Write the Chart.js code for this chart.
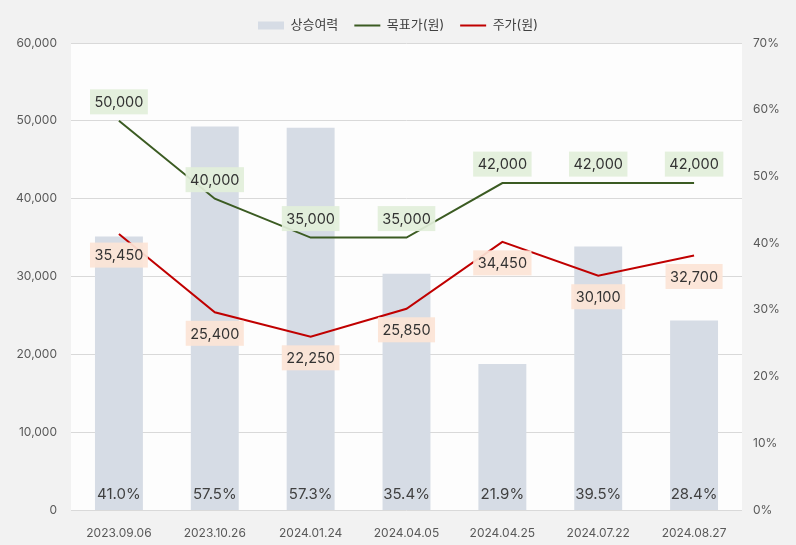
<!DOCTYPE html>
<html lang="ko">
<head>
<meta charset="utf-8">
<script src="https://cdn.jsdelivr.net/npm/chart.js@4"></script>
<style>
  html,body{margin:0;padding:0;background:#f2f2f2;}
  #wrap{width:796px;height:545px;}
</style>
</head>
<body>
<div id="wrap"><canvas id="c" width="796" height="545"></canvas></div>
<script>
'use strict';

/* 데이터 */
const DATES  = ['2023.09.06','2023.10.26','2024.01.24','2024.04.05','2024.04.25','2024.07.22','2024.08.27'];
const TARGET = [50000,40000,35000,35000,42000,42000,42000];   // 목표가(원)
const PRICE  = [35450,25400,22250,25850,34450,30100,32700];   // 주가(원)
const UPSIDE = [41.0,57.5,57.3,35.4,21.9,39.5,28.4];          // 상승여력 (%)
const LEFT_TICKS  = [0,10000,20000,30000,40000,50000,60000];
const RIGHT_TICKS = [0,10,20,30,40,50,60,70];

const FONT = "Inter,'Noto Sans CJK KR','Noto Sans',sans-serif";
const fmt = (v)=>v.toLocaleString('en-US');

/* 플롯 영역 배경 */
const areaBg = {
  id:'areaBg',
  beforeDraw(ch){
    const a=ch.chartArea, x=ch.ctx;
    x.save(); x.fillStyle='#fdfdfd'; x.fillRect(a.left,a.top,a.right-a.left,a.bottom-a.top); x.restore();
  }
};

/* 레이블 박스 */
const boxLabels = {
  id:'boxLabels',
  afterDatasetsDraw(ch){
    const x=ch.ctx;
    x.save();
    x.textAlign='center'; x.textBaseline='middle';
    // 막대 아래쪽 퍼센트
    x.font='15px '+FONT;
    ch.getDatasetMeta(0).data.forEach((el,i)=>{
      x.fillStyle='#404040';
      x.fillText(UPSIDE[i].toFixed(1)+'%', el.x, ch.chartArea.bottom-16);
    });
    x.font='14.5px '+FONT;
    const draw=(idx,vals,dy,bg)=>{
      ch.getDatasetMeta(idx).data.forEach((el,i)=>{
        const t=fmt(vals[i]), w=x.measureText(t).width+9, h=25, cy=el.y+dy;
        x.fillStyle=bg; x.fillRect(el.x-w/2, cy-h/2, w, h);
        x.fillStyle='#333333'; x.fillText(t, el.x, cy+1);
      });
    };
    draw(1,TARGET,-19,'rgba(226,239,218,0.93)');
    draw(2,PRICE,21,'rgba(252,228,214,0.93)');
    x.restore();
  }
};

/* 범례 높이 고정 */
const legendSpace = {
  id:'legendSpace',
  beforeInit(ch){
    const fit=ch.legend.fit;
    ch.legend.fit=function(){ fit.call(this); this.height=40; };
  }
};

new Chart(document.getElementById('c'),{
  data:{
    labels:DATES,
    datasets:[
      { type:'bar', label:'상승여력', data:UPSIDE.map(v=>v/100), yAxisID:'yR',
        backgroundColor:'#d6dce5', borderWidth:0, barPercentage:0.5, categoryPercentage:1, order:3,
        pointStyle:'rect' },
      { type:'line', label:'목표가(원)', data:TARGET, yAxisID:'yL', borderColor:'#3b5b22',
        backgroundColor:'#3b5b22', borderWidth:2, pointRadius:0, tension:0, order:2, pointStyle:'line' },
      { type:'line', label:'주가(원)', data:PRICE, yAxisID:'yL', borderColor:'#c00000',
        backgroundColor:'#c00000', borderWidth:2, pointRadius:0, tension:0, order:1, pointStyle:'line' }
    ]
  },
  options:{
    responsive:false, animation:false,
    layout:{ padding:{ left:0, right:0, top:3, bottom:0 } },
    plugins:{
      legend:{ position:'top',
        labels:{ usePointStyle:true, pointStyleWidth:26, boxHeight:8, padding:16,
          color:'#404040', font:{ family:FONT, size:13 },
          sort:(a,b)=>a.datasetIndex-b.datasetIndex } },
      tooltip:{ enabled:false }
    },
    scales:{
      x:{ grid:{ display:false }, border:{ display:false },
        ticks:{ color:'#595959', font:{ family:FONT, size:12 }, padding:8 },
        afterFit(s){ s.height=35; } },
      yL:{ position:'left', min:0, max:60000,
        afterBuildTicks(s){ s.ticks=LEFT_TICKS.map(v=>({value:v})); },
        grid:{ color:'#d9d9d9', drawTicks:false }, border:{ display:false },
        ticks:{ color:'#595959', font:{ family:FONT, size:12 }, padding:14, callback:(v)=>fmt(v) },
        afterFit(s){ s.width=71; } },
      yR:{ position:'right', min:0, max:0.7,
        afterBuildTicks(s){ s.ticks=RIGHT_TICKS.map(v=>({value:v/100})); },
        grid:{ display:false, drawTicks:false }, border:{ display:false },
        ticks:{ color:'#595959', font:{ family:FONT, size:12 }, padding:11,
          callback:(v)=>Math.round(v*100)+'%' },
        afterFit(s){ s.width=54; } }
    }
  },
  plugins:[areaBg, boxLabels, legendSpace]
});
</script>
</body>
</html>
